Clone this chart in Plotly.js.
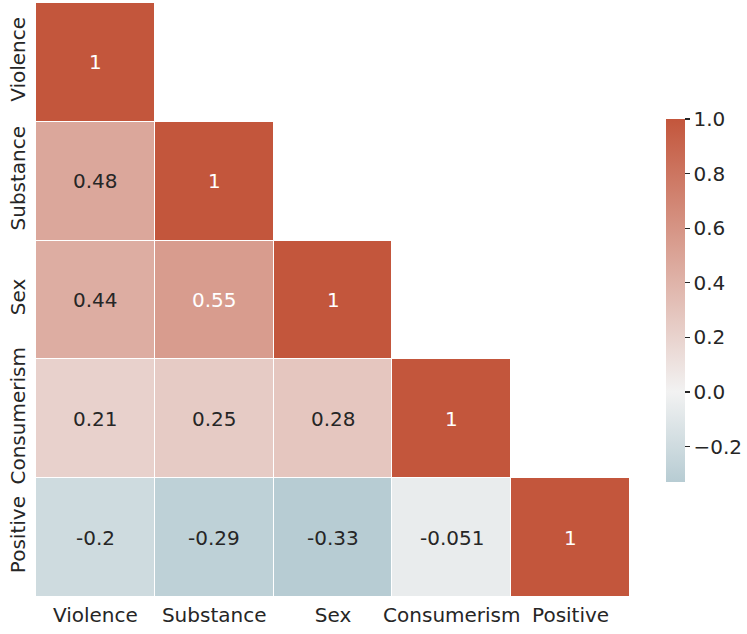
<!DOCTYPE html>
<html>
<head>
<meta charset="utf-8">
<script src="https://cdn.plot.ly/plotly-2.35.2.min.js"></script>
<style>html,body{margin:0;padding:0;background:#fff;}#chart{width:747px;height:634px;}</style>
</head>
<body>
<div id="chart"></div>
<script>
const categories = ["Violence", "Substance", "Sex", "Consumerism", "Positive"];
// lower-triangle correlation values (null = masked)
const rowViolence    = [1, null, null, null, null];
const rowSubstance   = [0.48, 1, null, null, null];
const rowSex         = [0.44, 0.55, 1, null, null];
const rowConsumerism = [0.21, 0.25, 0.28, 1, null];
const rowPositive    = [-0.2, -0.29, -0.33, -0.051, 1];
const colorbarTicks = [-0.2, 0.0, 0.2, 0.4, 0.6, 0.8, 1.0];

const z = [rowViolence, rowSubstance, rowSex, rowConsumerism, rowPositive];
const zmin = -0.33, zmax = 1.0;
const t0 = (0 - zmin) / (zmax - zmin);
const colorscale = [
  [0, "rgb(183,204,211)"],
  [t0, "rgb(242,242,242)"],
  [1, "rgb(195,86,60)"]
];

function fmt(v) { return String(Number(v.toPrecision(2))); }

const annotations = [];
z.forEach((row, i) => {
  row.forEach((v, j) => {
    if (v === null) return;
    annotations.push({
      x: categories[j], y: categories[i], xref: "x", yref: "y",
      text: fmt(v), showarrow: false,
      font: { family: "DejaVu Sans", size: 20, color: v > 0.5 ? "#ffffff" : "#262626" }
    });
  });
});

const trace = {
  type: "heatmap",
  x: categories, y: categories, z: z,
  zmin: zmin, zmax: zmax,
  colorscale: colorscale,
  xgap: 1, ygap: 1,
  hoverongaps: false,
  colorbar: {
    thickness: 19, len: 363, lenmode: "pixels",
    x: (666 - 36) / 594, xanchor: "left",
    y: (597 - 119) / 594, yanchor: "top",
    xpad: 0, ypad: 0, outlinewidth: 0,
    tickvals: colorbarTicks, tickformat: ".1f",
    ticks: "outside", ticklen: 5, tickwidth: 1.2, tickcolor: "#262626",
    tickfont: { family: "DejaVu Sans", size: 20, color: "#262626" }
  }
};

const layout = {
  width: 747, height: 634,
  margin: { l: 36, r: 117, t: 3, b: 37 },
  paper_bgcolor: "#ffffff", plot_bgcolor: "#ffffff",
  font: { family: "DejaVu Sans", color: "#262626" },
  xaxis: { type: "category", showgrid: false, zeroline: false, showline: false, ticks: "",
           tickfont: { size: 20, color: "#262626" }, ticklabelstandoff: 4 },
  yaxis: { type: "category", autorange: "reversed", showgrid: false, zeroline: false, showline: false,
           ticks: "", tickangle: -90, tickfont: { size: 20, color: "#262626" }, ticklabelstandoff: 6 },
  annotations: annotations
};

Plotly.newPlot("chart", [trace], layout, { displayModeBar: false, staticPlot: true });
</script>
</body>
</html>
